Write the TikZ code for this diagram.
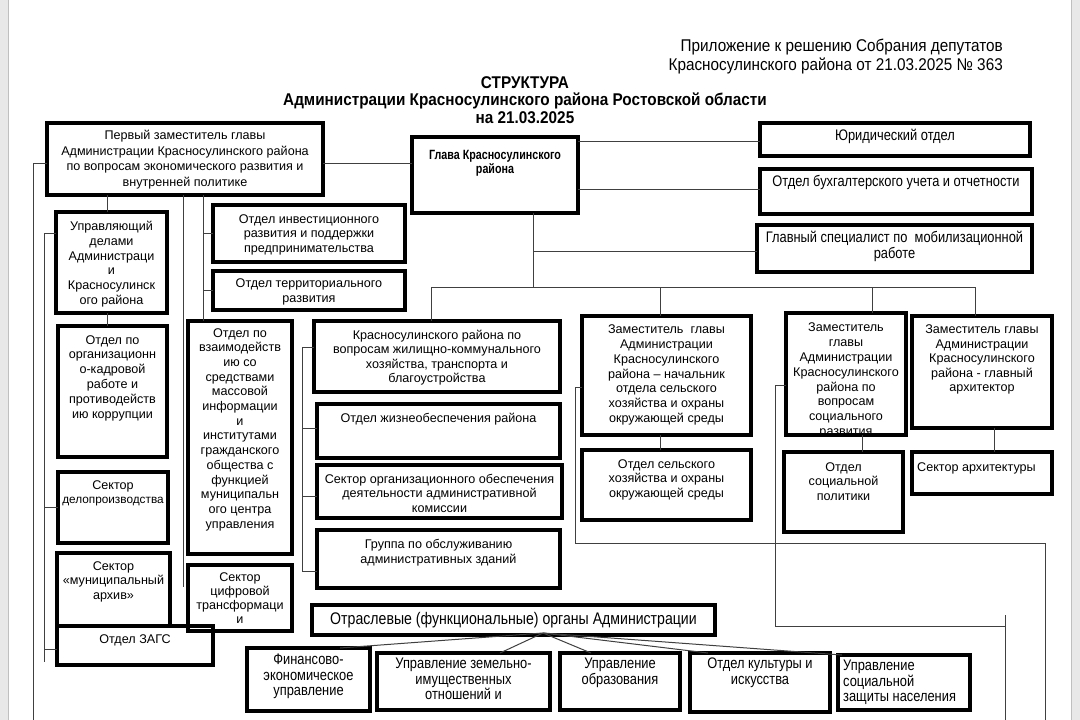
\documentclass[tikz,border=0pt]{standalone}
\usepackage{fontspec}
\setmainfont{Liberation Sans}
\newfontfamily\nar[FakeStretch=0.84]{Liberation Sans}
\newfontfamily\narh[FakeStretch=0.9]{Liberation Sans}
\newfontfamily\narg[FakeStretch=0.8]{Liberation Sans}
\begin{document}
\begin{tikzpicture}[x=1pt,y=-1pt,
  box/.style={draw=black, line width=3.1pt, outer sep=0pt, inner sep=0pt, rectangle},
  conn/.style={line width=1pt, draw=black!75},
  txt/.style={font=\fontsize{12.6}{14.8}\selectfont, align=center, inner sep=0pt},
  ntxt/.style={font=\nar\fontsize{15.3}{15.5}\selectfont, align=center, inner sep=0pt},
  btxt/.style={font=\narg\bfseries\fontsize{13.4}{14}\selectfont, align=center, inner sep=0pt},
  htxt/.style={font=\narh\fontsize{17}{19}\selectfont, inner sep=0pt},
  ttxt/.style={font=\narh\bfseries\fontsize{17}{17}\selectfont, inner sep=0pt}]
\useasboundingbox (0,0) rectangle (1080,720);
\fill[white] (0,0) rectangle (1080,720);
\fill[black!9] (0,0) rectangle (8,720);
\fill[black!9] (1071,0) rectangle (1080,720);
\draw[black!25, line width=0.6pt] (8,0) -- (8,720);
\draw[black!25, line width=0.6pt] (1071,0) -- (1071,720);
\newcommand\bx[5]{\node[box, anchor=north west, minimum width={#4-#2}, minimum height={#5-#3}] (#1) at (#2,#3) {};}
% header
\node[htxt, anchor=east] (h1) at (1003,47) {Приложение к решению Собрания депутатов};
\node[htxt, anchor=east] (h2) at (1003,66) {Красносулинского района от 21.03.2025 № 363};
\node[ttxt] (t1) at (525,83) {СТРУКТУРА};
\node[ttxt] (t2) at (525,101) {Администрации Красносулинского района Ростовской области};
\node[ttxt] (t3) at (525,118) {на 21.03.2025};
% boxes
\bx{pz}{47}{123}{323}{195}
\bx{gl}{412}{137}{578}{213}
\bx{ur}{760}{123}{1030}{156}
\bx{bu}{760}{169}{1032}{214}
\bx{gs}{757}{225}{1032}{272}
\bx{ud}{56}{212}{167}{313}
\bx{ok}{58}{326}{167}{457}
\bx{sd}{58}{472}{168}{543}
\bx{sa}{57}{553}{170}{626}
\bx{zg}{57}{626}{213}{665}
\bx{oi}{213}{205}{405}{262}
\bx{ot}{213}{271}{405}{310}
\bx{ov}{188}{321}{292}{554}
\bx{sc}{188}{565}{292}{631}
\bx{zk}{314}{321}{560}{392}
\bx{oz}{317}{404}{560}{458}
\bx{so}{317}{465}{562}{518}
\bx{gr}{317}{530}{560}{588}
\bx{zs}{582}{316}{751}{435}
\bx{os}{582}{450}{751}{520}
\bx{zp}{786}{313}{906}{435}
\bx{sp}{784}{452}{903}{532}
\bx{za}{912}{316}{1052}{428}
\bx{sx}{912}{452}{1052}{494}
\bx{org}{312}{605}{715}{635}
\bx{fe}{247}{648}{370}{711}
\bx{uz}{377}{653}{550}{710}
\bx{uo}{560}{653}{680}{710}
\bx{kul}{690}{653}{830}{712}
\bx{us}{838}{655}{970}{710}
% texts
\node[txt, anchor=north, font=\fontsize{12.6}{15.5}\selectfont] at ([yshift=-7pt]pz.north) {Первый заместитель главы\\Администрации Красносулинского района\\по вопросам экономического развития и\\внутренней политике};
\node[btxt, anchor=north] at ([yshift=-13pt]gl.north) {Глава Красносулинского\\района};
\node[ntxt, anchor=north] at ([yshift=-6pt]ur.north) {Юридический отдел};
\node[ntxt, anchor=north] at ([yshift=-6pt]bu.north) {Отдел бухгалтерского учета и отчетности};
\node[ntxt, anchor=north] at ([yshift=-6pt]gs.north) {Главный специалист по \ мобилизационной\\работе};
\node[txt, anchor=north] at ([yshift=-9pt]ud.north) {Управляющий\\делами\\Администраци\\и\\Красносулинск\\ого района};
\node[txt, anchor=north] at ([yshift=-9pt]ok.north) {Отдел по\\организационн\\о-кадровой\\работе и\\противодейств\\ию коррупции};
\node[txt, anchor=north, font=\fontsize{11.8}{14.5}\selectfont] at ([yshift=-8pt]sd.north) {{\fontsize{12.6}{14.5}\selectfont Сектор}\\делопроизводства};
\node[txt, anchor=north] at ([yshift=-8pt]sa.north) {Сектор\\«муниципальный\\архив»};
\node[txt, anchor=north] at ([yshift=-8pt]zg.north) {Отдел ЗАГС};
\node[txt, anchor=north] at ([yshift=-9pt]oi.north) {Отдел инвестиционного\\развития и поддержки\\предпринимательства};
\node[txt, anchor=north] at ([yshift=-8pt]ot.north) {Отдел территориального\\развития};
\node[txt, anchor=north, font=\fontsize{12.6}{14.7}\selectfont] at ([yshift=-7pt]ov.north) {Отдел по\\взаимодейств\\ию со\\средствами\\массовой\\информации\\и\\институтами\\гражданского\\общества с\\функцией\\муниципальн\\ого центра\\управления};
\node[txt, anchor=north, font=\fontsize{12.6}{14.2}\selectfont] at ([yshift=-7pt]sc.north) {Сектор\\цифровой\\трансформаци\\и};
\node[txt, anchor=north, font=\fontsize{12.6}{14.4}\selectfont] at ([yshift=-9pt]zk.north) {Красносулинского района по\\вопросам жилищно-коммунального\\хозяйства, транспорта и\\благоустройства};
\node[txt, anchor=north] at ([yshift=-9pt]oz.north) {Отдел жизнеобеспечения района};
\node[txt, anchor=north, font=\fontsize{12.6}{14.5}\selectfont] at ([yshift=-9pt]so.north) {Сектор организационного обеспечения\\деятельности административной\\комиссии};
\node[txt, anchor=north] at ([yshift=-9pt]gr.north) {Группа по обслуживанию\\административных зданий};
\node[txt, anchor=north, font=\fontsize{12.6}{14.7}\selectfont] at ([yshift=-9pt]zs.north) {Заместитель \ главы\\Администрации\\Красносулинского\\района – начальник\\отдела сельского\\хозяйства и охраны\\окружающей среды};
\node[txt, anchor=north] at ([yshift=-9pt]os.north) {Отдел сельского\\хозяйства и охраны\\окружающей среды};
\begin{scope}
\clip (786,313) rectangle (906,433);
\node[txt, anchor=north] at ([yshift=-10pt]zp.north) {Заместитель\\главы\\Администрации\\Красносулинского\\района по\\вопросам\\социального\\развития};
\end{scope}
\node[txt, anchor=north] at ([yshift=-10pt]sp.north) {Отдел\\социальной\\политики};
\node[txt, anchor=north, font=\fontsize{12.6}{14.5}\selectfont] at ([yshift=-9pt]za.north) {Заместитель главы\\Администрации\\Красносулинского\\района - главный\\архитектор};
\node[txt, anchor=north west] at ([xshift=5pt,yshift=-10pt]sx.north west) {Сектор архитектуры};
\node[ntxt, anchor=north, font=\nar\fontsize{16.8}{17}\selectfont] at ([yshift=-7pt]org.north) {Отраслевые (функциональные) органы Администрации};
\node[ntxt, anchor=north] at ([yshift=-6pt]fe.north) {Финансово-\\экономическое\\управление};
\node[ntxt, anchor=north] at ([yshift=-5pt]uz.north) {Управление земельно-\\имущественных\\отношений и};
\node[ntxt, anchor=north] at ([yshift=-5pt]uo.north) {Управление\\образования};
\node[ntxt, anchor=north] at ([yshift=-5pt]kul.north) {Отдел культуры и\\искусства};
\node[ntxt, anchor=north west, align=left] at ([xshift=5pt,yshift=-5pt]us.north west) {Управление\\социальной\\защиты населения};
% connectors
\draw[conn] (pz.east |- 0,163) -- (gl.west |- 0,163);
\draw[conn] (gl.east |- 0,141) -- (ur.west |- 0,141);
\draw[conn] (gl.east |- 0,189) -- (bu.west |- 0,189);
\coordinate (gb) at (533,287);
\draw[conn] (gl.south -| gb) -- (gb);
\draw[conn] (gb |- 0,251) -- (gs.west |- 0,251);
\draw[conn] (gb) -- (975,287);
\draw[conn] (gb) -- (431,287) -- (zk.north -| 431,0);
\draw[conn] (660,287) -- (zs.north -| 660,0);
\draw[conn] (872,287) -- (zp.north -| 872,0);
\draw[conn] (975,287) -- (za.north -| 975,0);
\draw[conn] (zs.south -| 660,0) -- (os.north -| 660,0);
\draw[conn] (zp.south -| 862,0) -- (sp.north -| 862,0);
\draw[conn] (za.south -| 994,0) -- (sx.north -| 994,0);
\coordinate (e1) at (1045,720);
\draw[conn] (zs.west |- 0,387) -- (575,387) -- (575,543) -- (e1 |- 0,543) -- (e1);
\coordinate (e2) at (1005,720);
\draw[conn] (zp.west |- 0,385) -- (775,385) -- (775,626) -- (e2 |- 0,626);
\draw[conn] (e2 |- 0,615) -- (e2);
\draw[conn] (zk.west |- 0,347) -- (302,347) -- (302,571) -- (gr.west |- 0,571);
\draw[conn] (302,428) -- (oz.west |- 0,428);
\draw[conn] (302,496) -- (so.west |- 0,496);
\coordinate (e3) at (33,720);
\draw[conn] (pz.west |- 0,163) -- (e3 |- 0,163) -- (e3);
\draw[conn] (pz.south -| 107,0) -- (ud.north -| 107,0);
\draw[conn] (ud.south -| 107,0) -- (ok.north -| 107,0);
\draw[conn] (ud.west |- 0,233) -- (44,233) -- (44,662);
\draw[conn] (44,507) -- (sd.west |- 0,507);
\draw[conn] (44,649) -- (zg.west |- 0,649);
\draw[conn] (pz.south -| 183,0) -- (183,587);
\draw[conn] (pz.south -| 203,0) -- (ov.north -| 203,0);
\draw[conn] (203,233) -- (oi.west |- 0,233);
\draw[conn] (203,290) -- (ot.west |- 0,290);
\coordinate (ap) at (543,633);
\draw[conn] (ap) -- (fe.north -| 340,0);
\draw[conn] (ap) -- (uz.north -| 500,0);
\draw[conn] (ap) -- (uo.north -| 591,0);
\draw[conn] (ap) -- (kul.north -| 708,0);
\draw[conn] (ap) -- (us.north -| 842,0);
\end{tikzpicture}
\end{document}
